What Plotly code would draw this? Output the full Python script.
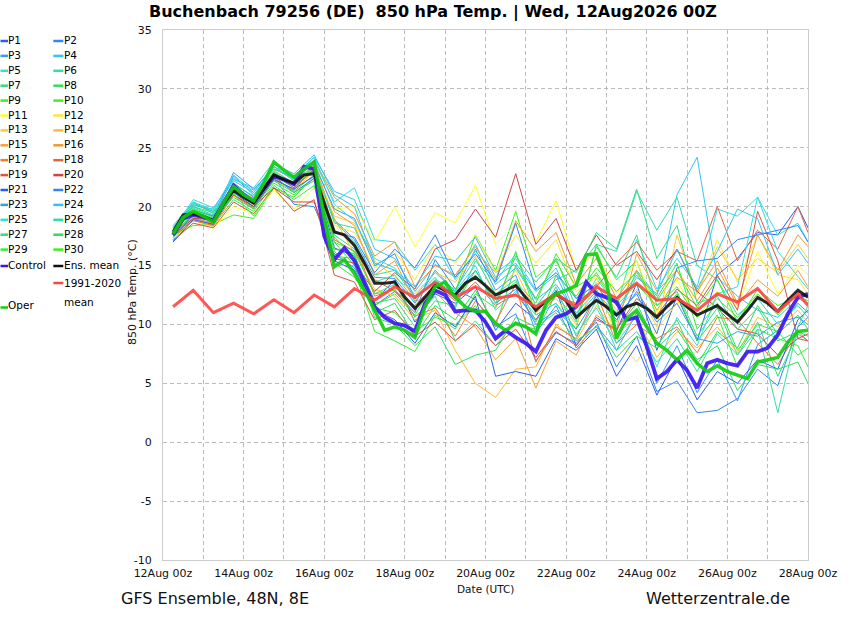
import plotly.graph_objects as go
import pandas as pd

# ---------------- data ----------------
# 6-hourly times for control / oper / mean
times6 = pd.date_range("2026-08-12 06:00", periods=64, freq="6h")
# 12-hourly times for the perturbation members and climatology
times12 = list(pd.date_range("2026-08-12 06:00", periods=32, freq="12h")) + [pd.Timestamp("2026-08-28 00:00")]

control = [17.6, 19.0, 19.3, 19.1, 18.8, 20.3, 21.8, 21.0, 20.4, 21.5, 22.6, 22.3, 21.9, 23.4, 23.2, 17.5,
           15.5, 16.5, 15.4, 13.5, 11.5, 10.6, 10.1, 9.9, 9.4, 11.8, 12.9, 12.5, 11.1, 11.2, 11.2, 10.2,
           8.8, 9.5, 8.9, 8.4, 7.7, 9.5, 10.6, 10.9, 11.5, 13.6, 12.6, 12.3, 11.9, 10.4, 10.6, 8.1,
           5.4, 6.0, 7.0, 6.1, 4.6, 6.7, 7.0, 6.7, 6.5, 7.7, 7.7, 8.0, 9.1, 10.9, 12.3, 12.6]

oper = [17.7, 19.1, 19.6, 19.2, 18.7, 20.3, 21.7, 21.0, 20.5, 22.0, 23.8, 23.1, 22.5, 23.2, 23.8, 19.0,
        14.9, 15.5, 14.3, 12.9, 11.2, 9.5, 9.8, 9.5, 8.9, 11.5, 13.2, 13.6, 12.3, 11.5, 11.1, 11.1,
        10.1, 9.5, 10.1, 9.8, 9.2, 11.8, 12.6, 12.9, 13.3, 15.9, 16.0, 13.7, 8.8, 10.5, 11.2, 9.8,
        8.4, 7.8, 7.0, 7.8, 6.7, 6.0, 6.5, 6.0, 5.7, 5.4, 6.8, 7.0, 7.2, 8.5, 9.4, 9.5]

ens_mean = [17.85, 19.3, 19.4, 19.2, 18.8, 20.2, 21.4, 20.8, 20.3, 21.5, 22.7, 22.3, 22.0, 22.7, 22.8, 20.3,
            17.85, 17.6, 16.7, 15.2, 13.5, 13.5, 13.6, 12.3, 11.35, 12.3, 13.3, 12.9, 12.5, 13.5, 14.0, 13.3,
            12.5, 12.9, 13.3, 12.3, 11.2, 12.0, 12.6, 12.0, 10.6, 11.35, 12.05, 11.5, 10.8, 11.5, 11.8, 11.35,
            10.6, 11.5, 12.3, 11.5, 10.8, 11.2, 11.6, 10.9, 10.2, 11.2, 12.3, 11.8, 11.1, 12.05, 12.9, 12.3]

clim = [11.5, 12.9, 11.0, 11.8, 10.9, 12.1, 11.0, 12.5, 11.5, 13.05, 12.05, 13.2, 12.3, 13.6, 12.3, 13.2,
        12.2, 12.5, 11.5, 12.6, 11.5, 13.2, 12.2, 13.5, 12.05, 12.2, 11.2, 12.6, 11.9, 13.05, 11.1, 12.6, 11.6]

P1 = [17.2, 19.0, 18.6, 21.8, 20.5, 22.9, 21.8, 23.0, 16.5, 15.8, 12.0, 13.8, 10.2, 12.6, 11.8, 13.2,
      9.5, 11.8, 10.4, 12.9, 8.2, 10.6, 9.4, 13.5, 7.8, 12.4, 8.6, 14.2, 15.6, 17.8, 17.6, 20.0, 18.2]
P2 = [17.5, 19.2, 18.9, 22.0, 20.8, 22.5, 20.2, 20.0, 16.0, 14.8, 11.6, 12.8, 11.0, 15.5, 13.0, 12.1,
      9.8, 10.9, 6.9, 9.3, 8.4, 10.2, 6.4, 9.0, 4.3, 5.2, 2.5, 2.7, 3.7, 6.2, 4.8, 9.8, 10.6]
P3 = [17.9, 19.6, 19.0, 22.6, 21.0, 23.2, 22.4, 23.3, 18.9, 17.2, 14.0, 13.9, 11.8, 14.6, 12.8, 16.4,
      12.9, 14.2, 9.3, 11.6, 8.0, 9.9, 7.8, 11.0, 5.0, 8.2, 4.2, 7.0, 3.5, 8.3, 9.5, 11.8, 11.0]
P4 = [18.3, 20.1, 19.8, 22.4, 21.4, 23.4, 22.6, 24.2, 21.3, 20.6, 16.4, 15.6, 12.8, 15.1, 14.0, 16.8,
      13.4, 14.8, 12.1, 13.4, 11.0, 12.8, 10.2, 14.6, 12.4, 21.0, 24.2, 14.0, 12.4, 11.2, 10.6, 12.2, 11.8]
P5 = [18.1, 20.6, 19.9, 22.3, 21.6, 23.8, 22.3, 23.9, 20.4, 21.6, 17.2, 17.0, 14.6, 16.8, 13.8, 16.2,
      14.4, 15.6, 12.9, 14.8, 10.8, 13.9, 11.6, 17.2, 13.0, 15.6, 13.2, 19.8, 19.2, 20.8, 17.6, 18.6, 17.0]
P6 = [18.0, 20.4, 19.4, 21.5, 20.6, 22.9, 21.8, 23.5, 18.6, 18.2, 14.2, 14.6, 12.3, 14.0, 11.4, 15.4,
      13.6, 16.0, 11.5, 13.8, 14.6, 16.8, 16.2, 21.3, 18.0, 20.8, 15.0, 13.8, 10.8, 12.2, 10.0, 11.6, 10.6]
P7 = [17.6, 19.9, 19.2, 21.2, 20.2, 22.6, 21.6, 23.1, 17.6, 16.4, 12.6, 13.4, 10.6, 12.4, 8.6, 10.3,
      8.2, 10.2, 9.3, 12.6, 10.2, 16.6, 14.0, 17.6, 11.6, 12.8, 9.0, 11.4, 7.4, 10.2, 5.6, 9.2, 8.6]
P8 = [17.8, 20.2, 19.6, 21.0, 19.9, 22.4, 21.3, 22.7, 17.0, 15.0, 11.0, 11.8, 9.0, 11.6, 10.4, 12.9,
      9.9, 15.0, 12.2, 15.6, 11.4, 13.0, 9.6, 11.8, 8.2, 10.4, 6.6, 9.4, 8.0, 11.6, 9.2, 10.8, 9.6]
P9 = [17.4, 19.1, 18.4, 20.6, 19.6, 22.0, 21.0, 22.4, 16.2, 14.6, 9.4, 8.6, 7.7, 10.8, 9.6, 12.6,
      11.4, 16.2, 10.8, 11.8, 9.6, 16.8, 13.8, 15.4, 10.6, 12.6, 8.6, 10.8, 6.4, 9.6, 8.8, 8.2, 6.4]
P10 = [17.6, 18.4, 18.5, 19.3, 19.0, 21.6, 20.8, 22.6, 15.8, 15.6, 11.6, 12.6, 10.8, 13.6, 12.8, 17.6,
       14.6, 19.6, 14.0, 15.4, 12.2, 14.4, 11.8, 14.2, 12.0, 14.6, 11.4, 13.8, 10.2, 13.0, 11.6, 12.4, 12.0]
P11 = [17.3, 18.6, 18.2, 20.0, 19.4, 21.4, 19.8, 21.6, 19.8, 20.0, 17.0, 20.0, 16.6, 19.5, 18.6, 21.8,
       16.8, 18.5, 17.0, 20.5, 14.6, 16.2, 12.6, 15.4, 11.0, 13.8, 10.6, 12.8, 11.4, 16.2, 12.6, 15.0, 14.2]
P12 = [17.7, 19.2, 18.8, 20.9, 20.0, 22.6, 21.2, 22.4, 18.4, 17.8, 14.8, 16.2, 13.8, 16.8, 15.2, 17.6,
       14.4, 17.6, 15.2, 17.2, 12.8, 14.0, 8.8, 6.8, 9.6, 11.8, 12.6, 17.2, 13.6, 17.6, 14.2, 13.8, 12.6]
P13 = [17.6, 18.9, 18.3, 21.0, 20.1, 22.2, 21.4, 23.0, 19.2, 18.6, 15.4, 14.0, 12.6, 14.4, 13.6, 15.8,
       12.4, 14.6, 11.0, 12.2, 10.0, 13.6, 11.2, 13.0, 9.8, 17.6, 12.6, 16.6, 13.8, 15.6, 14.4, 16.8, 15.6]
P14 = [17.9, 19.1, 18.5, 21.4, 20.4, 23.1, 22.0, 23.6, 19.0, 16.0, 13.0, 12.4, 10.4, 11.2, 7.8, 5.0,
       3.8, 6.2, 6.4, 10.0, 8.6, 11.6, 9.2, 10.6, 7.2, 9.4, 8.0, 9.8, 7.6, 10.6, 9.8, 11.2, 10.2]
P15 = [18.0, 19.4, 18.7, 21.6, 20.7, 23.4, 22.2, 23.8, 19.6, 18.4, 14.2, 15.4, 11.9, 12.8, 11.0, 9.8,
       7.0, 8.8, 4.6, 8.6, 7.4, 10.8, 9.6, 16.0, 12.8, 14.6, 12.0, 14.8, 11.6, 13.8, 12.4, 14.6, 13.2]
P16 = [17.8, 19.0, 18.6, 21.3, 20.2, 22.8, 21.9, 24.0, 20.8, 19.4, 15.8, 17.0, 13.2, 15.0, 14.2, 16.6,
       13.8, 18.8, 16.2, 17.8, 13.4, 15.6, 12.2, 14.6, 11.2, 14.0, 12.8, 15.4, 11.8, 17.6, 14.6, 17.6, 16.6]
P17 = [17.5, 18.8, 18.4, 21.0, 19.8, 22.4, 21.4, 23.4, 18.0, 16.9, 12.4, 13.0, 10.7, 11.4, 9.0, 12.0,
       10.2, 13.4, 6.8, 9.8, 8.8, 12.6, 8.4, 10.0, 8.8, 9.8, 7.6, 10.6, 10.4, 8.4, 6.6, 9.4, 8.6]
P18 = [17.7, 19.3, 19.0, 21.6, 20.6, 22.8, 21.6, 23.2, 17.2, 16.2, 13.8, 12.8, 11.6, 13.4, 12.0, 13.6,
       11.6, 12.6, 10.4, 12.4, 11.8, 13.2, 15.2, 17.0, 14.6, 16.2, 15.4, 20.0, 15.4, 18.0, 16.4, 20.0, 17.8]
P19 = [17.1, 18.6, 18.2, 20.4, 19.4, 21.6, 19.6, 20.6, 14.2, 13.6, 10.4, 11.2, 9.0, 10.2, 8.6, 10.0,
       8.2, 9.6, 7.2, 9.4, 8.2, 10.4, 9.6, 12.2, 10.8, 13.0, 11.6, 14.2, 11.2, 19.6, 15.4, 8.8, 8.6]
P20 = [17.6, 19.0, 18.9, 21.0, 20.0, 21.6, 20.4, 20.4, 15.6, 15.2, 12.8, 14.4, 13.0, 16.4, 17.2, 19.8,
       17.4, 22.8, 16.8, 19.0, 14.6, 17.6, 15.0, 16.2, 13.8, 16.4, 12.8, 11.4, 9.6, 9.2, 7.4, 8.8, 9.2]
P21 = [17.0, 18.9, 18.5, 21.2, 20.0, 22.3, 21.5, 22.6, 15.4, 14.6, 11.2, 10.4, 8.4, 11.0, 9.8, 12.4,
       5.6, 6.0, 5.6, 8.8, 7.8, 9.6, 5.6, 8.2, 4.0, 7.2, 3.6, 6.0, 5.0, 7.0, 6.2, 10.4, 11.2]
P22 = [17.4, 19.3, 18.7, 21.8, 20.6, 22.6, 21.2, 22.4, 17.8, 17.4, 14.4, 16.4, 14.8, 17.6, 14.0, 16.0,
       13.6, 18.6, 13.0, 14.4, 12.2, 13.4, 10.8, 12.6, 9.2, 14.8, 15.4, 15.6, 17.2, 17.6, 18.0, 18.4, 17.0]
P23 = [17.8, 19.7, 19.2, 22.9, 21.5, 23.2, 22.5, 23.6, 19.8, 19.0, 15.0, 16.0, 12.2, 13.6, 12.6, 14.6,
       11.8, 13.0, 10.0, 11.2, 9.6, 12.4, 10.4, 12.8, 10.2, 11.8, 8.8, 8.4, 9.4, 9.0, 10.2, 10.6, 10.0]
P24 = [18.2, 20.3, 19.6, 22.2, 21.2, 23.6, 22.8, 24.4, 21.0, 20.0, 15.2, 14.6, 13.2, 15.8, 15.4, 17.4,
       14.0, 15.2, 12.8, 14.2, 10.6, 12.6, 11.0, 14.0, 12.6, 16.4, 13.0, 16.2, 19.8, 19.0, 14.2, 16.4, 15.2]
P25 = [18.4, 20.4, 19.7, 22.7, 21.2, 23.2, 22.4, 24.2, 20.2, 18.8, 15.6, 14.8, 12.4, 14.4, 12.8, 15.0,
       11.2, 12.8, 10.8, 11.8, 9.2, 11.4, 8.4, 10.8, 6.4, 10.6, 8.2, 12.6, 13.2, 20.8, 16.2, 14.0, 13.0]
P26 = [18.2, 20.0, 19.3, 21.9, 20.9, 23.0, 22.0, 23.4, 18.8, 17.0, 13.6, 14.2, 12.0, 13.8, 13.0, 15.6,
       12.6, 13.8, 10.2, 13.2, 9.0, 12.0, 7.8, 9.4, 6.8, 8.8, 6.0, 9.2, 7.4, 9.6, 2.5, 9.8, 11.6]
P27 = [17.9, 20.0, 19.5, 21.6, 20.4, 23.4, 22.2, 23.0, 17.4, 15.8, 11.8, 12.2, 9.8, 12.0, 11.6, 14.6,
       11.8, 15.8, 13.6, 15.6, 14.4, 17.8, 16.4, 21.5, 15.6, 18.4, 11.8, 12.4, 9.6, 11.4, 8.6, 9.4, 9.0]
P28 = [17.6, 19.8, 19.1, 20.8, 19.8, 22.2, 21.2, 22.2, 16.4, 16.0, 10.6, 10.0, 8.2, 9.8, 6.6, 7.4,
       7.8, 10.6, 9.8, 11.0, 8.6, 9.8, 7.2, 9.0, 8.0, 9.6, 7.0, 8.2, 4.4, 6.6, 6.2, 6.8, 5.0]
P29 = [17.5, 19.5, 18.9, 21.1, 19.2, 21.8, 20.6, 21.8, 15.2, 14.0, 11.4, 11.0, 9.4, 10.6, 10.0, 11.6,
       8.8, 10.0, 9.6, 14.2, 12.4, 14.8, 12.8, 14.4, 12.2, 15.2, 9.6, 11.8, 7.8, 10.0, 9.4, 7.4, 8.0]
P30 = [17.8, 19.6, 19.0, 21.4, 20.2, 22.9, 21.8, 23.3, 17.0, 16.2, 12.6, 12.9, 11.4, 13.2, 12.4, 14.2,
       12.2, 13.6, 11.8, 16.0, 13.2, 14.2, 11.6, 13.4, 11.6, 13.2, 10.6, 12.2, 10.6, 12.6, 10.8, 12.6, 11.8]

members = [P1, P2, P3, P4, P5, P6, P7, P8, P9, P10, P11, P12, P13, P14, P15,
           P16, P17, P18, P19, P20, P21, P22, P23, P24, P25, P26, P27, P28, P29, P30]
member_names = ["P%d" % (i + 1) for i in range(30)]
base_colors = ["#2b5cf0", "#3385f5", "#339cf2", "#33c4f2", "#33dde0", "#33ddaa", "#33dd80", "#33dd60",
               "#33ee3a", "#44ee22", "#ffff22", "#ffe633", "#ffcc33", "#ffbb33", "#f5a033", "#ee9933",
               "#ee7a33", "#dd6644", "#d65544", "#cc4444"]
member_colors = base_colors + base_colors[:10]

ytick_vals = [-10, -5, 0, 5, 10, 15, 20, 25, 30, 35]
ytick_text = ["-10", "-5", "0", "5", "10", "15", "20", "25", "30", "35"]

for m in members:
    assert len(m) == len(times12), len(m)
for s in (control, oper, ens_mean):
    assert len(s) == 64
assert len(clim) == 33

CONTROL_C = "#3a14f2"
OPER_C = "#11cc11"
MEAN_C = "#111111"
CLIM_C = "#ff4444"

FONT = "DejaVu Sans"

fig = go.Figure()
for name, vals, col in zip(member_names, members, member_colors):
    fig.add_trace(go.Scatter(x=times12, y=vals, mode="lines", name=name,
                             line=dict(color=col, width=1)))
fig.add_trace(go.Scatter(x=times6, y=control, mode="lines", name="Control",
                         line=dict(color=CONTROL_C, width=3.8), opacity=0.9))
fig.add_trace(go.Scatter(x=times6, y=ens_mean, mode="lines", name="Ens. mean",
                         line=dict(color=MEAN_C, width=3), opacity=0.9))
fig.add_trace(go.Scatter(x=times12, y=clim, mode="lines", name="1991-2020 mean",
                         line=dict(color=CLIM_C, width=3), opacity=0.9))
fig.add_trace(go.Scatter(x=times6, y=oper, mode="lines", name="Oper",
                         line=dict(color=OPER_C, width=3.5), opacity=0.9))

# ---------------- layout ----------------
W, H = 850, 620
L, R, T, B = 163, 40, 30, 60
PW, PH = W - L - R, H - T - B


def px2x(px):
    return (px - L) / PW


def py2y(py):
    return (H - B - py) / PH


GRID = "#bbbbbb"
fig.update_layout(
    width=W, height=H,
    margin=dict(l=L, r=R, t=T, b=B),
    paper_bgcolor="white", plot_bgcolor="white",
    showlegend=False,
    font=dict(family=FONT, size=11, color="#111111"),
    xaxis=dict(
        type="date",
        range=["2026-08-12 00:00", "2026-08-28 00:00"],
        tick0="2026-08-12 00:00", dtick=2 * 86400000,
        tickformat="%d%b %Hz",
        showgrid=True, gridcolor=GRID, griddash="4px,3px", gridwidth=1,
        minor=dict(dtick=86400000, tick0="2026-08-12 00:00", showgrid=True,
                   gridcolor=GRID, griddash="4px,3px", gridwidth=1),
        showline=True, linecolor="#cccccc", mirror=True, zeroline=False,
        ticks="outside", ticklen=3, tickcolor="rgba(0,0,0,0)",
        tickfont=dict(size=11, family=FONT),
    ),
    yaxis=dict(
        range=[-10, 35], tickmode="array", tickvals=ytick_vals, ticktext=ytick_text,
        showgrid=True, gridcolor=GRID, griddash="4px,3px", gridwidth=1,
        showline=True, linecolor="#cccccc", mirror=True, zeroline=False,
        ticks="outside", ticklen=8, tickcolor="rgba(0,0,0,0)",
        tickfont=dict(size=11, family=FONT),
    ),
)

ann = []
ann.append(dict(text="<b>Buchenbach 79256 (DE)  850 hPa Temp. | Wed, 12Aug2026 00Z</b>",
                x=px2x(434), y=py2y(12), xref="paper", yref="paper", showarrow=False,
                xanchor="center", yanchor="middle", font=dict(size=16, family=FONT, color="#000")))
ann.append(dict(text="850 hPa Temp. (°C)", x=px2x(132), y=py2y(292), xref="paper", yref="paper",
                showarrow=False, textangle=-90, xanchor="center", yanchor="middle",
                font=dict(size=11, family=FONT)))
ann.append(dict(text="Date (UTC)", x=px2x(486), y=py2y(589), xref="paper", yref="paper",
                showarrow=False, xanchor="center", yanchor="middle", font=dict(size=10.5, family=FONT)))
ann.append(dict(text="GFS Ensemble, 48N, 8E", x=px2x(119), y=py2y(598), xref="paper", yref="paper",
                showarrow=False, xanchor="left", yanchor="middle", font=dict(size=16, family=FONT)))
ann.append(dict(text="Wetterzentrale.de", x=px2x(794), y=py2y(598), xref="paper", yref="paper",
                showarrow=False, xanchor="right", yanchor="middle", font=dict(size=16, family=FONT)))

# custom legend
shapes = []
LEG_FS = 10.5


def legend_item(label, color, xline0, xline1, ytext, yline=None, width=2.5):
    if yline is None:
        yline = ytext + 1
    shapes.append(dict(type="line", xref="paper", yref="paper",
                       x0=px2x(xline0), x1=px2x(xline1), y0=py2y(yline), y1=py2y(yline),
                       line=dict(color=color, width=width)))
    ann.append(dict(text=label, x=px2x(xline1 - 1.8), y=py2y(ytext), xref="paper", yref="paper",
                    showarrow=False, xanchor="left", yanchor="middle",
                    font=dict(size=LEG_FS, family=FONT, color="#000")))


for i, (name, col) in enumerate(zip(member_names, member_colors)):
    row = i // 2
    y = 40 + 14.9 * row
    if i % 2 == 0:
        legend_item(name, col, 0, 7.5, y)
    else:
        legend_item(name, col, 53, 63, y)
legend_item("Control", CONTROL_C, 0, 7.5, 265)
legend_item("Ens. mean", MEAN_C, 53, 63, 265)
legend_item("1991-2020", CLIM_C, 53, 63, 283, yline=283)
ann.append(dict(text="mean", x=px2x(61.2), y=py2y(302), xref="paper", yref="paper",
                showarrow=False, xanchor="left", yanchor="middle",
                font=dict(size=LEG_FS, family=FONT, color="#000")))
legend_item("Oper", OPER_C, 0, 7.5, 305, yline=307.5)

fig.update_layout(annotations=ann, shapes=shapes)
fig.write_html("out.html",
               config={"displayModeBar": False},
               post_script="document.body.style.margin='0';document.body.style.overflow='hidden';")
